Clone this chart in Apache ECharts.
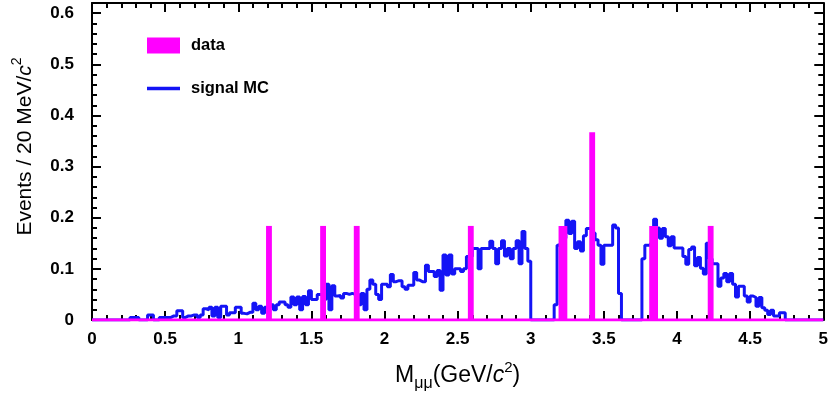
<!DOCTYPE html>
<html>
<head>
<meta charset="utf-8">
<script src="https://cdn.jsdelivr.net/npm/echarts@6/dist/echarts.min.js"></script>
<style>
html, body { margin: 0; padding: 0; background: #fff; }
#chart { width: 831px; height: 397px; }
</style>
</head>
<body>
<div id="chart"></div>
<script>
// signal MC, 20 MeV bins from 0 to 5 GeV
const binWidth = 0.02;
const mcValues = [
    0, 0, 0, 0, 0, 0, 0, 0, 0, 0,
    0, 0, 0, 0.005, 0.005, 0.005, 0, 0, 0, 0.01,
    0.01, 0, 0, 0.005, 0.005, 0.005, 0.005, 0.008, 0.008, 0.018,
    0.018, 0.005, 0.008, 0.008, 0.01, 0.01, 0.005, 0.01, 0.022, 0.02,
    0.025, 0.008, 0.025, 0.005, 0.027, 0.027, 0.01, 0.014, 0.014, 0.025,
    0.025, 0.013, 0.012, 0.015, 0.015, 0.033, 0.02, 0.027, 0.013, 0.025,
    0.025, 0.03, 0.02, 0.03, 0.035, 0.035, 0.03, 0.025, 0.045, 0.03,
    0.045, 0.02, 0.046, 0.03, 0.057, 0.04, 0.04, 0.05, 0.05, 0.04,
    0.07, 0.02, 0.067, 0.047, 0.048, 0.043, 0.052, 0.05, 0.052, 0.05,
    0.052, 0.03, 0.052, 0.02, 0.06, 0.078, 0.07, 0.05, 0.04, 0.07,
    0.07, 0.065, 0.089, 0.075, 0.077, 0.077, 0.065, 0.06, 0.068, 0.068,
    0.093, 0.078, 0.075, 0.075, 0.107, 0.095, 0.095, 0.085, 0.097, 0.058,
    0.127, 0.088, 0.127, 0.09, 0.1, 0.1, 0.095, 0.1, 0.124, 0.124,
    0.14, 0.14, 0.1, 0.14, 0.14, 0.14, 0.154, 0.14, 0.11, 0.14,
    0.155, 0.125, 0.14, 0.12, 0.14, 0.155, 0.11, 0.173, 0.14, 0.115,
    0, 0, 0, 0, 0, 0, 0, 0, 0.03, 0.146,
    0.15, 0.16, 0.195, 0.169, 0.193, 0.14, 0.153, 0.135, 0.165, 0.179,
    0.18, 0.17, 0.157, 0.146, 0.109, 0.146, 0.146, 0.146, 0.186, 0.18,
    0.052, 0, 0, 0, 0, 0, 0, 0, 0.12, 0.146,
    0.146, 0.15, 0.197, 0.18, 0.16, 0.179, 0.163, 0.145, 0.163, 0.141,
    0.141, 0.141, 0.124, 0.109, 0.138, 0.143, 0.106, 0.122, 0.101, 0.09,
    0.15, 0.12, 0.11, 0.11, 0.066, 0.082, 0.091, 0.075, 0.091, 0.07,
    0.045, 0.066, 0.066, 0.047, 0.035, 0.047, 0.044, 0.027, 0.044, 0.024,
    0.019, 0.011, 0.019, 0.008, 0.008, 0.014, 0.014, 0, 0, 0,
    0, 0, 0, 0, 0, 0, 0, 0, 0, 0
];

// data events (bin edges and height)
const dataLow = [1.19, 1.56, 1.79, 2.57, 3.19, 3.40, 3.81, 4.21];
const dataHigh = [1.23, 1.60, 1.83, 2.61, 3.25, 3.44, 3.87, 4.25];
const dataHeight = [0.184, 0.184, 0.184, 0.184, 0.184, 0.367, 0.184, 0.184];

const xMin = 0, xMax = 5, yMin = 0, yMax = 0.62;
const FONT = 'Liberation Sans';

const mcPoints = mcValues.map((v, i) => [+(i * binWidth).toFixed(2), v]);
mcPoints.push([xMax, 0]);
const dataRects = dataLow.map((lo, i) => [lo, dataHigh[i], dataHeight[i]]);

const chart = echarts.init(document.getElementById('chart'));

const tickStyle = { color: '#000', width: 2 };
function frameAxis(extra) {
    return Object.assign({
        type: 'value',
        axisLine: { show: true, onZero: false, lineStyle: { color: '#000', width: 2 } },
        axisTick: { show: true, inside: true, length: 9, lineStyle: tickStyle },
        minorTick: { show: true, splitNumber: 5, length: 5, lineStyle: tickStyle },
        splitLine: { show: false },
        minorSplitLine: { show: false }
    }, extra);
}

const option = {
    animation: false,
    backgroundColor: '#fff',
    grid: { left: 92, right: 6, top: 3, bottom: 75 },
    legend: {
        orient: 'vertical',
        left: 142,
        top: 32,
        itemWidth: 33,
        itemHeight: 16,
        itemGap: 26,
        textStyle: { fontFamily: FONT, fontWeight: 'bold', fontSize: 16.5, color: '#000', padding: [0, 0, 0, 6] },
        data: [
            { name: 'data', icon: 'rect' },
            { name: 'signal MC', icon: 'path://M0,0H33V3.5H0Z' }
        ]
    },
    xAxis: [
        frameAxis({
            min: xMin, max: xMax, interval: 0.5,
            position: 'bottom',
            axisLabel: { margin: 11, fontFamily: FONT, fontWeight: 'bold', fontSize: 17, color: '#000' },
            name: '{n|M}{sub|μμ}{n|(GeV/}{i|c}{s|2}{n|)}',
            nameLocation: 'middle',
            nameGap: 40,
            nameTextStyle: {
                rich: {
                    n: { fontFamily: FONT, fontSize: 23, color: '#000', lineHeight: 32 },
                    i: { fontFamily: FONT, fontSize: 23, fontStyle: 'italic', color: '#000', lineHeight: 32 },
                    sub: { fontFamily: FONT, fontSize: 16, color: '#000', verticalAlign: 'bottom', lineHeight: 17 },
                    s: { fontFamily: FONT, fontSize: 15, color: '#000', verticalAlign: 'top', lineHeight: 15 }
                }
            }
        }),
        frameAxis({
            min: xMin, max: xMax, interval: 0.5,
            position: 'top',
            axisLabel: { show: false }
        })
    ],
    yAxis: [
        frameAxis({
            min: yMin, max: yMax, interval: 0.1,
            position: 'left',
            axisLabel: {
                margin: 18, fontFamily: FONT, fontWeight: 'bold', fontSize: 17, color: '#000',
                formatter: v => Math.abs(v * 10 - Math.round(v * 10)) < 1e-6 ? String(+v.toFixed(1)) : ''
            },
            name: '{n|Events / 20 MeV/}{i|c}{s|2}',
            nameLocation: 'middle',
            nameGap: 52,
            nameTextStyle: {
                padding: [0, 0, 0, 30],
                rich: {
                    n: { fontFamily: FONT, fontSize: 21, color: '#000', lineHeight: 30 },
                    i: { fontFamily: FONT, fontSize: 21, fontStyle: 'italic', color: '#000', lineHeight: 30 },
                    s: { fontFamily: FONT, fontSize: 14, color: '#000', verticalAlign: 'top', lineHeight: 14 }
                }
            }
        }),
        frameAxis({
            min: yMin, max: yMax, interval: 0.1,
            position: 'right',
            axisLabel: { show: false }
        })
    ],
    series: [
        {
            name: 'signal MC',
            type: 'line',
            step: 'end',
            symbol: 'none',
            color: '#1414f5',
            lineStyle: { color: '#1414f5', width: 3 },
            data: mcPoints,
            z: 2
        },
        {
            name: 'data',
            type: 'custom',
            color: '#ff00ff',
            itemStyle: { color: '#ff00ff' },
            encode: { x: [0, 1], y: 2 },
            data: dataRects,
            renderItem: (params, api) => {
                const p0 = api.coord([api.value(0), api.value(2)]);
                const p1 = api.coord([api.value(1), 0]);
                return {
                    type: 'rect',
                    shape: { x: p0[0], y: p0[1], width: p1[0] - p0[0], height: p1[1] - p0[1] },
                    style: { fill: '#ff00ff' }
                };
            },
            z: 3
        },
        {
            name: 'data baseline',
            type: 'line',
            symbol: 'none',
            lineStyle: { color: '#ff00ff', width: 3 },
            data: [[xMin, 0], [xMax, 0]],
            z: 4
        }
    ]
};

chart.setOption(option);
</script>
</body>
</html>
